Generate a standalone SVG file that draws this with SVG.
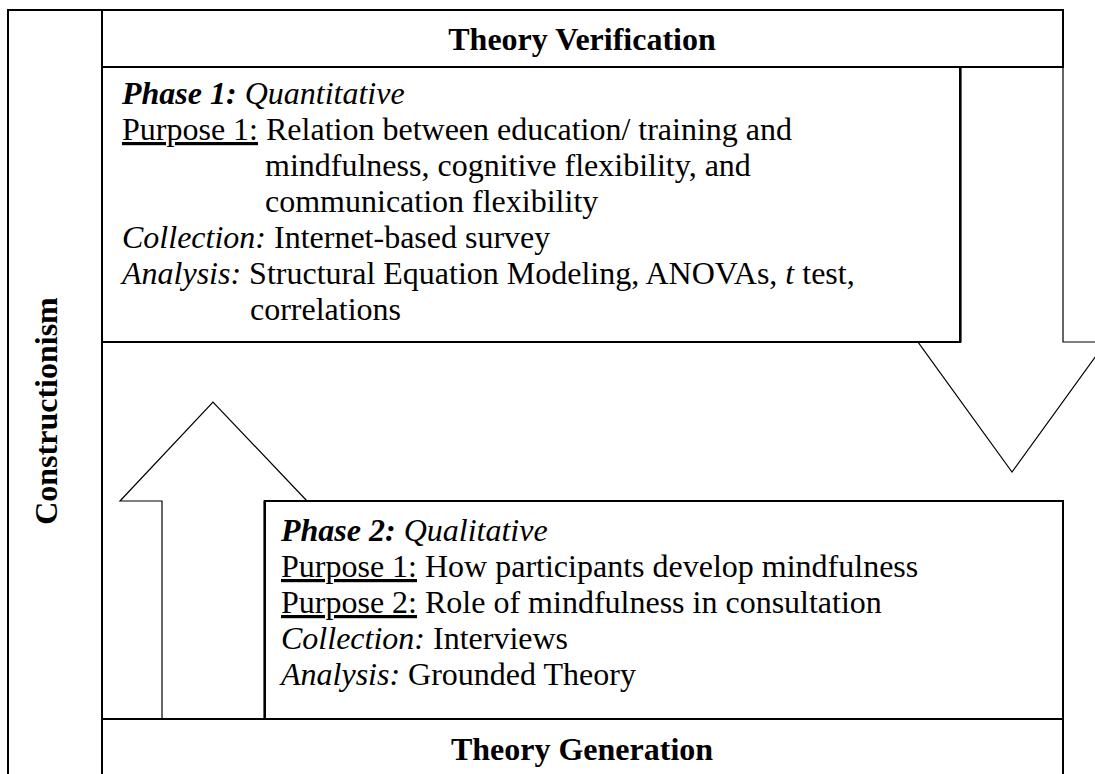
<svg xmlns="http://www.w3.org/2000/svg" width="1095" height="774" viewBox="0 0 1095 774">
<style>
.frame{fill:#fff;stroke:#000;stroke-width:2}
.arrow{fill:#fff;stroke:#000;stroke-width:1.2}
.t{font-family:"Liberation Serif","Times New Roman",serif;font-size:32px;fill:#000}
.b{font-weight:bold}
.i{font-style:italic}
.u{text-decoration:underline}
</style>
<rect width="1095" height="774" fill="#fff"/>
<g id="frame">
<path d="M8,790 V10 H1063" fill="none" stroke="#000" stroke-width="2"/>
<line x1="102" y1="10" x2="102" y2="790" stroke="#000" stroke-width="2"/>
</g>
<g id="constructionism">
<text class="t b" font-size="36" transform="translate(57,411) rotate(-90)" text-anchor="middle">Constructionism</text>
</g>
<g id="connectors">
<path class="arrow" d="M961,67 H1063 V342 H1106 L1012,472 L918,342 H961 Z"/>
<path class="arrow" d="M162,719 V501 H120 L213,402 L307,501 H264 V719 Z"/>
</g>
<g id="theory-verification">
<rect class="frame" x="102" y="10" width="961" height="57"/>
<text class="t b" x="582" y="50" text-anchor="middle">Theory Verification</text>
</g>
<g id="phase1">
<rect class="frame" x="102" y="67" width="858" height="275"/>
<text class="t" x="122" y="104"><tspan class="b i">Phase 1:</tspan><tspan class="i"> Quantitative</tspan></text>
<text class="t" x="122" y="140"><tspan class="u">Purpose 1:</tspan> Relation between education/ training and</text>
<text class="t" x="265" y="176">mindfulness, cognitive flexibility, and</text>
<text class="t" x="265" y="212">communication flexibility</text>
<text class="t" x="122" y="248"><tspan class="i">Collection:</tspan> Internet-based survey</text>
<text class="t" x="122" y="284"><tspan class="i">Analysis:</tspan> Structural Equation Modeling, ANOVAs, <tspan class="i">t</tspan> test,</text>
<text class="t" x="250" y="320">correlations</text>
</g>
<g id="phase2">
<rect class="frame" x="265" y="501" width="798" height="218"/>
<text class="t" x="281" y="541"><tspan class="b i">Phase 2:</tspan><tspan class="i"> Qualitative</tspan></text>
<text class="t" x="281" y="577"><tspan class="u">Purpose 1:</tspan> How participants develop mindfulness</text>
<text class="t" x="281" y="613"><tspan class="u">Purpose 2:</tspan> Role of mindfulness in consultation</text>
<text class="t" x="281" y="649"><tspan class="i">Collection:</tspan> Interviews</text>
<text class="t" x="281" y="685"><tspan class="i">Analysis:</tspan> Grounded Theory</text>
</g>
<g id="theory-generation">
<rect class="frame" x="102" y="719" width="961" height="70"/>
<text class="t b" x="582" y="760" text-anchor="middle">Theory Generation</text>
</g>
</svg>
